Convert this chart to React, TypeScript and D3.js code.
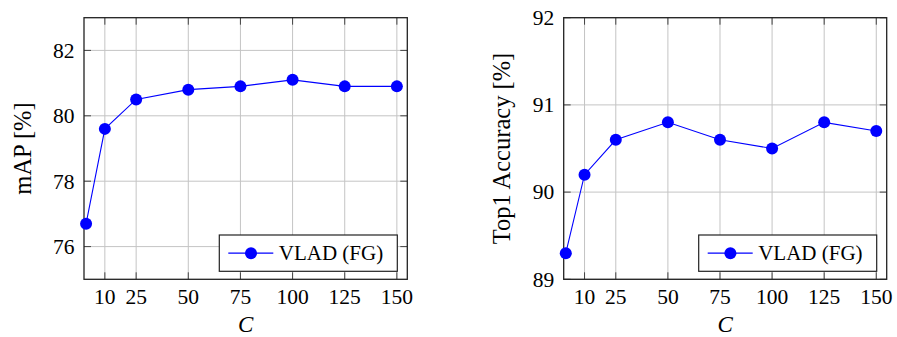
import React from "react";
import * as d3 from "d3";

const cValues = [1, 10, 25, 50, 75, 100, 125, 150];
const xTickValues = [10, 25, 50, 75, 100, 125, 150];
const mapValues = [76.7, 79.6, 80.5, 80.8, 80.9, 81.1, 80.9, 80.9];
const top1Values = [89.3, 90.2, 90.6, 90.8, 90.6, 90.5, 90.8, 90.7];
const mapTicks = [76, 78, 80, 82];
const top1Ticks = [89, 90, 91, 92];
const seriesName = "VLAD (FG)";
const xLabel = "C";

const FONT = "'Liberation Serif', 'DejaVu Serif', serif";

type PanelProps = {
  x0: number;
  x1: number;
  y0: number;
  y1: number;
  yDomain: [number, number];
  yTicks: number[];
  values: number[];
  yLabel: string;
  yLabelX: number;
};

function Panel({ x0, x1, y0, y1, yDomain, yTicks, values, yLabel, yLabelX }: PanelProps) {
  const x = d3.scaleLinear().domain([0, 155]).range([x0, x1]);
  const y = d3.scaleLinear().domain(yDomain).range([y1, y0]);
  const line = d3
    .line<number>()
    .x((_, i) => x(cValues[i]))
    .y((d) => y(d));
  const tickLen = 7;
  const legW = 178;
  const legH = 36.3;
  const legX = x1 - 10 - legW;
  const legY = y1 - 8 - legH;
  const legMid = legY + legH / 2;
  return (
    <g>
      {/* grid */}
      {xTickValues.map((t) => (
        <line key={"gx" + t} x1={x(t)} x2={x(t)} y1={y0} y2={y1} stroke="#c4c4c4" strokeWidth={1} />
      ))}
      {yTicks.map((t) => (
        <line key={"gy" + t} x1={x0} x2={x1} y1={y(t)} y2={y(t)} stroke="#c4c4c4" strokeWidth={1} />
      ))}
      {/* tick marks */}
      {xTickValues.map((t) => (
        <g key={"tx" + t}>
          <line x1={x(t)} x2={x(t)} y1={y1} y2={y1 - tickLen} stroke="#444" strokeWidth={1} />
          <line x1={x(t)} x2={x(t)} y1={y0} y2={y0 + tickLen} stroke="#444" strokeWidth={1} />
        </g>
      ))}
      {yTicks.map((t) => (
        <g key={"ty" + t}>
          <line x1={x0} x2={x0 + tickLen} y1={y(t)} y2={y(t)} stroke="#444" strokeWidth={1} />
          <line x1={x1} x2={x1 - tickLen} y1={y(t)} y2={y(t)} stroke="#444" strokeWidth={1} />
        </g>
      ))}
      {/* frame */}
      <rect x={x0} y={y0} width={x1 - x0} height={y1 - y0} fill="none" stroke="#222" strokeWidth={1.3} />
      {/* data */}
      <path d={line(values) || ""} fill="none" stroke="#0000ff" strokeWidth={1.1} />
      {values.map((v, i) => (
        <circle key={"p" + i} cx={x(cValues[i])} cy={y(v)} r={6} fill="#0000ff" />
      ))}
      {/* tick labels */}
      {xTickValues.map((t) => (
        <text key={"lx" + t} x={x(t)} y={304} textAnchor="middle" fontFamily={FONT} fontSize={21.5} fill="#000">
          {t}
        </text>
      ))}
      {yTicks.map((t) => (
        <text key={"ly" + t} x={x0 - 9.5} y={y(t) + 7.3} textAnchor="end" fontFamily={FONT} fontSize={21.5} fill="#000">
          {t}
        </text>
      ))}
      {/* axis labels */}
      <text x={(x0 + x1) / 2} y={332} textAnchor="middle" fontFamily={FONT} fontStyle="italic" fontSize={23} fill="#000">
        {xLabel}
      </text>
      <text
        transform={`translate(${yLabelX},${(y0 + y1) / 2}) rotate(-90)`}
        textAnchor="middle"
        fontFamily={FONT}
        fontSize={24.5}
        fill="#000"
      >
        {yLabel}
      </text>
      {/* legend */}
      <rect x={legX} y={legY} width={legW} height={legH} fill="#fff" stroke="#222" strokeWidth={1.2} />
      <line x1={legX + 9} x2={legX + 54} y1={legMid} y2={legMid} stroke="#0000ff" strokeWidth={1.1} />
      <circle cx={legX + 31.7} cy={legMid} r={6} fill="#0000ff" />
      <text x={legX + 59.5} y={legMid + 7} fontFamily={FONT} fontSize={21} fill="#000">
        {seriesName}
      </text>
    </g>
  );
}

export default function App() {
  return (
    <svg
      width={897}
      height={337}
      style={{ position: "absolute", left: 0, top: 0, background: "#fff" }}
    >
      <rect x={0} y={0} width={897} height={337} fill="#fff" />
      <Panel
        x0={84}
        x1={407.3}
        y0={17.7}
        y1={279.3}
        yDomain={[75, 83]}
        yTicks={mapTicks}
        values={mapValues}
        yLabel="mAP [%]"
        yLabelX={30.5}
      />
      <Panel
        x0={563.7}
        x1={886.7}
        y0={17.7}
        y1={279.3}
        yDomain={[89, 92]}
        yTicks={top1Ticks}
        values={top1Values}
        yLabel="Top1 Accuracy [%]"
        yLabelX={509.5}
      />
    </svg>
  );
}
